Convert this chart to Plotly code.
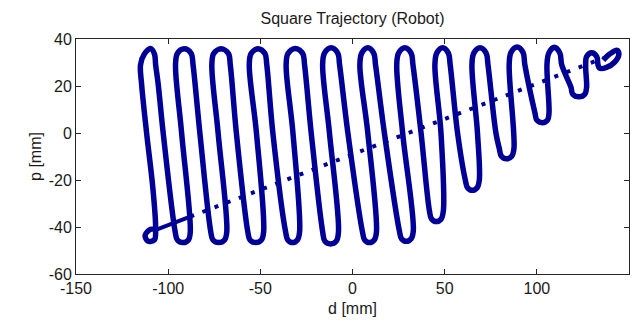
import plotly.graph_objects as go

# Robot end-point trace of the square (serpentine) trajectory, in mm.
# Waypoints follow the pen path: start loop, then alternating top caps and bottom turns.
path_d = [
    # start loop and first upward stroke
    -106.0, -109.5, -112.5, -111.0, -107.5, -106.8, -108.3, -111.7, -114.4,
    # cap 1
    -115.0, -113.0, -109.5, -107.4, -106.8, -105.4, -102.7,
    # turn 1, stroke, cap 2, stroke
    -96.2, -95.0, -92.0, -89.0, -88.0, -92.7,
    -96.0, -95.0, -91.3, -87.5, -86.5, -82.8,
    # turn 2, cap 3
    -76.9, -75.7, -72.5, -69.4, -68.2, -72.9,
    -76.3, -75.3, -71.3, -67.3, -66.3, -63.0,
    # turn 3, cap 4
    -56.8, -55.6, -52.5, -49.4, -48.2, -52.1,
    -56.0, -55.0, -51.2, -47.5, -46.5, -43.2,
    # turn 4, cap 5
    -36.3, -35.1, -32.5, -29.9, -28.7, -32.3,
    -36.0, -35.0, -31.0, -27.0, -26.0, -22.4,
    # turn 5, cap 6
    -16.2, -15.0, -11.9, -8.8, -7.6, -12.5,
    -16.2, -15.2, -11.6, -8.0, -7.0, -2.5,
    # turn 6, cap 7
    5.4, 6.6, 9.2, 11.8, 13.0, 8.3,
    4.0, 5.0, 8.3, 11.5, 12.5, 17.3,
    # turn 7, cap 8
    25.4, 26.6, 29.2, 31.8, 33.0, 27.2,
    24.0, 25.0, 28.4, 31.8, 32.8, 37.2,
    # turn 8, cap 9
    41.7, 42.9, 45.5, 48.1, 49.3, 48.0,
    44.7, 45.7, 48.9, 52.0, 53.0, 57.0,
    # turn 9, cap 10
    61.2, 62.4, 65.0, 67.6, 68.8, 67.8,
    64.8, 65.8, 69.2, 72.5, 73.5, 77.8,
    # turn 10, cap 11
    79.6, 80.8, 83.6, 86.4, 87.6,
    85.0, 86.0, 89.3, 92.5, 93.5,
    # turn 11, cap 12
    99.0, 100.0, 103.0, 105.8, 106.6,
    105.5, 106.5, 109.5, 112.5, 113.5,
    # turn 12, cap 13
    118.5, 119.5, 122.9, 126.0, 127.0,
    126.5, 127.0, 129.8, 132.5, 133.2,
    # end loop
    134.0, 137.5, 142.0, 144.5, 143.5, 139.5, 136.0,
]
path_p = [
    -41.0, -41.0, -43.5, -46.0, -45.5, -41.0, -23.5, 0.0, 20.7,
    29.0, 33.5, 36.0, 33.5, 29.0, 20.7, 0.0,
    -42.0, -45.5, -46.6, -45.5, -42.0, 0.0,
    29.0, 33.8, 35.8, 33.8, 29.0, 0.0,
    -42.0, -45.5, -46.6, -45.5, -42.0, 0.0,
    29.0, 33.8, 35.8, 33.8, 29.0, 0.0,
    -42.0, -45.5, -46.6, -45.5, -42.0, 0.0,
    29.0, 33.8, 35.9, 33.8, 29.0, 0.0,
    -42.0, -45.5, -46.6, -45.5, -42.0, 0.0,
    29.0, 33.8, 36.0, 33.8, 29.0, 0.0,
    -42.0, -46.0, -47.2, -46.0, -42.0, 0.0,
    29.0, 34.0, 36.3, 34.0, 29.0, 0.0,
    -42.0, -45.5, -46.6, -45.5, -42.0, 0.0,
    29.0, 34.0, 36.3, 34.0, 29.0, 0.0,
    -41.5, -45.0, -46.1, -45.0, -41.5, 0.0,
    29.0, 34.0, 36.3, 34.0, 29.0, 0.0,
    -33.0, -36.6, -37.7, -36.6, -33.0, 0.0,
    29.0, 34.0, 36.3, 34.0, 29.0, 0.0,
    -20.0, -23.3, -24.4, -23.3, -20.0, 0.0,
    29.0, 34.0, 36.3, 34.0, 29.0, 0.0,
    -6.5, -9.9, -11.0, -9.9, -6.5,
    29.0, 34.3, 36.6, 34.3, 29.0,
    8.5, 5.5, 4.4, 5.5, 8.5,
    29.0, 34.0, 36.5, 34.0, 29.0,
    19.5, 16.5, 15.4, 16.5, 19.5,
    28.0, 32.5, 34.2, 32.5, 29.0,
    27.6, 27.8, 30.0, 33.5, 35.2, 33.6, 31.0,
]

# Straight return move from the start loop to the end loop
diag_d = [-106.0, -88.0, 136.5]
diag_p = [-41.0, -35.6, 32.0]

x_ticks = [-150, -100, -50, 0, 50, 100, 150]
x_tick_labels = ["-150", "-100", "-50", "0", "50", "100", "150"]
y_ticks = [-60, -40, -20, 0, 20, 40]
y_tick_labels = ["-60", "-40", "-20", "0", "20", "40"]

navy = "rgb(0,0,150)"
font_family = "Liberation Sans, Arial, sans-serif"

fig = go.Figure()
fig.add_trace(go.Scatter(
    x=path_d, y=path_p, mode="lines",
    line=dict(color=navy, width=5.5, shape="spline", smoothing=1.0),
    hoverinfo="skip", showlegend=False,
))
fig.add_trace(go.Scatter(
    x=diag_d[:2], y=diag_p[:2], mode="lines",
    line=dict(color=navy, width=4),
    hoverinfo="skip", showlegend=False,
))
fig.add_trace(go.Scatter(
    x=diag_d[1:], y=diag_p[1:], mode="lines",
    line=dict(color=navy, width=4, dash="4px,9px"),
    hoverinfo="skip", showlegend=False,
))

axis_common = dict(
    showgrid=False, zeroline=False, showline=True, mirror="ticks",
    linecolor="#262626", linewidth=1, ticks="inside", ticklen=5,
    tickcolor="#262626", tickfont=dict(family=font_family, size=16, color="#1a1a1a"),
)

fig.update_layout(
    width=639, height=323,
    margin=dict(l=76, r=9, t=39, b=46),
    paper_bgcolor="white", plot_bgcolor="white",
    title=dict(
        text="Square Trajectory (Robot)",
        x=0.5, xref="paper", xanchor="center",
        y=1 - 18 / 323, yref="container", yanchor="middle",
        font=dict(family=font_family, size=16, color="#1a1a1a"),
    ),
    xaxis=dict(
        range=[-150, 150], tickvals=x_ticks, ticktext=x_tick_labels,
        title=dict(text="d [mm]", standoff=6,
                   font=dict(family=font_family, size=16, color="#1a1a1a")),
        **axis_common,
    ),
    yaxis=dict(
        range=[-60, 40], tickvals=y_ticks, ticktext=y_tick_labels,
        title=dict(text="p [mm]", standoff=3,
                   font=dict(family=font_family, size=16, color="#1a1a1a")),
        **axis_common,
    ),
)

fig.write_html("out.html")
